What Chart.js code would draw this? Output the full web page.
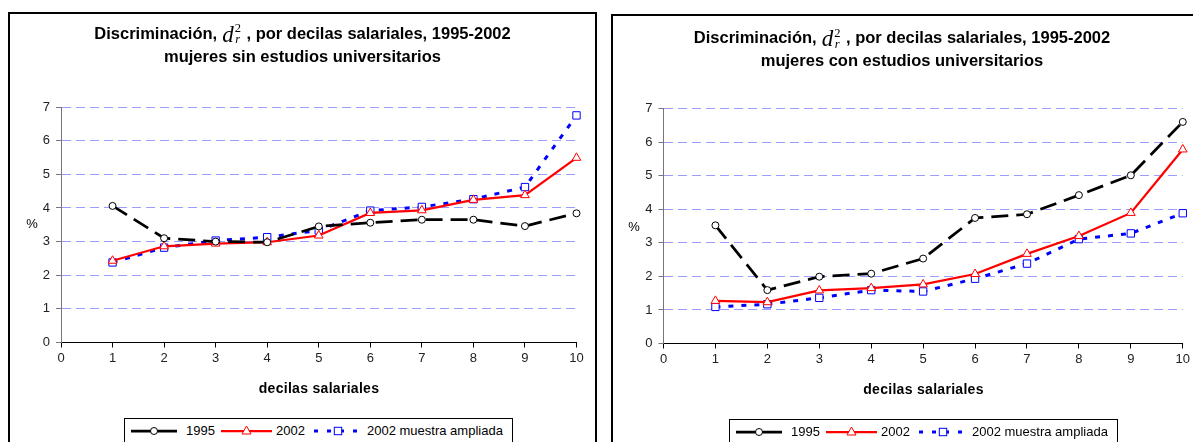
<!DOCTYPE html>
<html><head><meta charset="utf-8">
<script src="https://cdn.jsdelivr.net/npm/chart.js@4/dist/chart.umd.min.js"></script>
<style>
html,body{margin:0;padding:0;}
body{width:1193px;height:442px;overflow:hidden;background:#fff;position:relative;font-family:Arial,"Liberation Sans",sans-serif;color:#000;}
.frame{position:absolute;border:2px solid #000;box-sizing:border-box;}
canvas{position:absolute;top:0;}
.title{position:absolute;text-align:center;font-weight:bold;font-size:16.5px;white-space:nowrap;}
.title div{height:23px;line-height:23px;}
.m{font-family:"Liberation Serif","Times New Roman",serif;font-weight:normal;display:inline-block;vertical-align:middle;line-height:1;margin:0 1px 0 5px;}
.m .d{font-style:italic;font-size:23px;vertical-align:middle;}
.m .ss{display:inline-flex;flex-direction:column;vertical-align:middle;font-size:12.5px;line-height:11px;margin-left:1px;}
.m .sb{font-style:italic;}
.lbl{position:absolute;white-space:nowrap;transform:translate(-50%,-50%);}
.axt{font-weight:bold;font-size:14px;letter-spacing:0.3px;}
.pct{font-size:13px;}
.legend{position:absolute;border:1px solid #000;box-sizing:border-box;width:389px;height:32px;background:#fff;}
.legend svg{position:absolute;top:5px;}
.legend span{position:absolute;top:4px;font-size:13px;line-height:16px;white-space:nowrap;}
</style>
</head><body>
<div class="frame" style="left:8px;top:12px;width:589px;height:445px;"></div>
<div class="frame" style="left:611px;top:14px;width:600px;height:445px;"></div>
<canvas id="c1" width="600" height="442" style="left:0;width:600px;height:442px;"></canvas>
<canvas id="c2" width="593" height="442" style="left:600px;width:593px;height:442px;"></canvas>
<script>
// ---- data ----
const decilas = [1, 2, 3, 4, 5, 6, 7, 8, 9, 10];
const sin1995 = [4.06, 3.10, 3.00, 2.98, 3.45, 3.56, 3.65, 3.65, 3.46, 3.84];
const sin2002 = [2.43, 2.86, 2.94, 2.98, 3.18, 3.85, 3.93, 4.24, 4.38, 5.49];
const sin2002amp = [2.38, 2.82, 3.03, 3.13, 3.33, 3.92, 4.03, 4.26, 4.62, 6.75];
const con1995 = [3.52, 1.59, 1.99, 2.08, 2.53, 3.74, 3.85, 4.42, 5.01, 6.60];
const con2002 = [1.27, 1.23, 1.58, 1.65, 1.76, 2.07, 2.67, 3.20, 3.89, 5.78];
const con2002amp = [1.09, 1.17, 1.36, 1.59, 1.55, 1.93, 2.38, 3.11, 3.28, 3.88];
const xTickLabels = ['0','1','2','3','4','5','6','7','8','9','10'];
const yTickLabels = ['0','1','2','3','4','5','6','7'];
const seriesNames = ['1995', '2002', '2002 muestra ampliada'];
const titleLine1a = 'Discriminación,';
const titleLine1b = ' , por decilas salariales, 1995-2002';
const subtitles = ['mujeres sin estudios universitarios', 'mujeres con estudios universitarios'];
const xAxisTitle = 'decilas salariales';
const yAxisTitle = '%';

// ---- styles ----
const styles = [
  {color:'#000000', width:2.75, dash:[17,8], point:'circle', r:3.5},
  {color:'#ff0000', width:2.25, dash:[], point:'triangle', r:5},
  {color:'#0000ff', width:3, dash:[5,8], point:'rect', r:5.2}
];

function toXY(vals){ return decilas.map((d,i)=>({x:d, y:vals[i]})); }

function makeChart(id, seriesVals, L){
  const ctx = document.getElementById(id);
  const W = ctx.width, H = ctx.height;
  const yW = 30, xH = 30;
  new Chart(ctx, {
    type:'line',
    data:{datasets: seriesVals.map((v,i)=>({
      label: seriesNames[i], data: toXY(v), clip:false,
      borderColor: styles[i].color, borderWidth: styles[i].width, borderDash: styles[i].dash,
      pointStyle: styles[i].point, pointRadius: styles[i].r, pointHoverRadius: styles[i].r,
      pointBackgroundColor:'#ffffff', pointBorderColor: styles[i].color, pointBorderWidth:1,
      tension:0, fill:false
    }))},
    options:{
      responsive:false, animation:false, devicePixelRatio:1,
      layout:{padding:{left:L.left - yW, right: W - L.right, top: L.top, bottom: H - L.bottom - xH}},
      plugins:{legend:{display:false}, title:{display:false}, tooltip:{enabled:false}},
      scales:{
        x:{type:'linear', min:0, max:10,
          afterFit:(s)=>{s.height = xH;},
          afterBuildTicks:(s)=>{s.ticks = xTickLabels.map(t=>({value:Number(t)}));},
          ticks:{stepSize:1, autoSkip:false, maxRotation:0, padding:3, color:'#222',
            font:{family:'Arial, "Liberation Sans"', size:13},
            callback:(v)=>xTickLabels[v]},
          grid:{drawOnChartArea:false, drawTicks:true, tickLength:5, tickColor:'#000', tickWidth:1},
          border:{display:true, color:'#000', width:1}
        },
        y:{min:0, max:7,
          afterFit:(s)=>{s.width = yW;},
          afterBuildTicks:(s)=>{s.ticks = yTickLabels.map(t=>({value:Number(t)}));},
          ticks:{stepSize:1, padding:6, color:'#222',
            font:{family:'Arial, "Liberation Sans"', size:13},
            callback:(v)=>yTickLabels[v]},
          grid:{drawOnChartArea:true, color:'#9c9cff', lineWidth:1, drawTicks:true, tickLength:5, tickColor:'#777', tickWidth:1},
          border:{display:true, color:'#777', width:1, dash:[9,5]}
        }
      }
    }
  });
}

function addLabel(text, cls, x, y){
  const d = document.createElement('div');
  d.className = 'lbl ' + cls; d.textContent = text;
  d.style.left = x + 'px'; d.style.top = y + 'px';
  document.body.appendChild(d);
}

function addTitle(left, width, top, sub){
  const t = document.createElement('div');
  t.className = 'title';
  t.style.left = left + 'px'; t.style.width = width + 'px'; t.style.top = top + 'px';
  const l1 = document.createElement('div');
  l1.appendChild(document.createTextNode(titleLine1a));
  const m = document.createElement('span'); m.className = 'm';
  m.innerHTML = '<span class="d">d</span><span class="ss"><span class="sp">2</span><span class="sb">r</span></span>';
  l1.appendChild(m);
  l1.appendChild(document.createTextNode(titleLine1b));
  const l2 = document.createElement('div'); l2.textContent = sub;
  t.appendChild(l1); t.appendChild(l2);
  document.body.appendChild(t);
}

function sampleSVG(i, w){
  const s = styles[i], cy = 7, cx = w/2;
  let marker = '';
  if (s.point === 'circle') marker = `<circle cx="${cx}" cy="${cy}" r="3.5" fill="#fff" stroke="${s.color}" stroke-width="1"/>`;
  if (s.point === 'triangle') marker = `<polygon points="${cx},${cy-5} ${cx+4.5},${cy+3} ${cx-4.5},${cy+3}" fill="#fff" stroke="${s.color}" stroke-width="1"/>`;
  if (s.point === 'rect') marker = `<rect x="${cx-3.7}" y="${cy-3.7}" width="7.4" height="7.4" fill="#fff" stroke="${s.color}" stroke-width="1"/>`;
  const dash = i === 2 ? 'stroke-dasharray="4 9"' : '';
  return `<svg width="${w}" height="14"><line x1="0" y1="${cy}" x2="${w}" y2="${cy}" stroke="${s.color}" stroke-width="${s.width}" ${dash}/>${marker}</svg>`;
}

function addLegend(left, top){
  const box = document.createElement('div'); box.className = 'legend';
  box.style.left = left + 'px'; box.style.top = top + 'px';
  const sx = [6, 96, 189], sw = [46, 51, 48], tx = [61, 151, 242];
  seriesNames.forEach((n,i)=>{
    const holder = document.createElement('div');
    holder.innerHTML = sampleSVG(i, sw[i]);
    const svg = holder.firstChild; svg.style.left = sx[i] + 'px';
    box.appendChild(svg);
    const sp = document.createElement('span'); sp.textContent = n; sp.style.left = tx[i] + 'px';
    box.appendChild(sp);
  });
  document.body.appendChild(box);
}

makeChart('c1', [sin1995, sin2002, sin2002amp], {left:61, right:576.5, top:107, bottom:342.5});
makeChart('c2', [con1995, con2002, con2002amp], {left:63.5, right:583.5, top:108.5, bottom:343.5});

addTitle(10, 585, 21.5, subtitles[0]);
addTitle(613, 578, 26, subtitles[1]);
addLabel(xAxisTitle, 'axt', 319, 388);
addLabel(xAxisTitle, 'axt', 923.5, 389);
addLabel(yAxisTitle, 'pct', 32, 223);
addLabel(yAxisTitle, 'pct', 634, 226);
addLegend(124, 418);
addLegend(729, 419);
</script>
</body></html>
